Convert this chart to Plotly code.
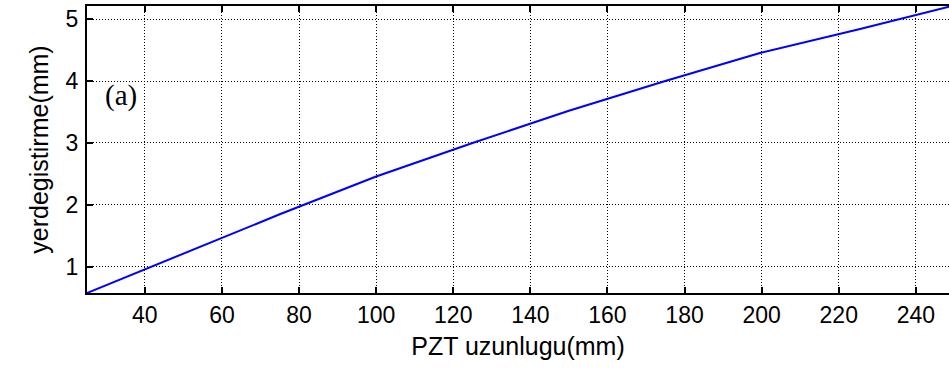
import plotly.graph_objects as go

# Data
pzt_length_mm = [25, 50, 75, 100, 125, 150, 175, 200, 225, 250]
displacement_mm = [0.58, 1.22, 1.85, 2.46, 3.00, 3.52, 4.00, 4.46, 4.83, 5.22]
x_ticks = [40, 60, 80, 100, 120, 140, 160, 180, 200, 220, 240]
y_ticks = [1, 2, 3, 4, 5]

fig = go.Figure()
fig.add_trace(go.Scatter(
    x=pzt_length_mm, y=displacement_mm, mode="lines",
    line=dict(color="#0000ff", width=2), showlegend=False,
))

axis_common = dict(
    showline=True, linecolor="black", linewidth=2,
    ticks="inside", ticklen=6, tickwidth=2, tickcolor="black",
    showgrid=True, gridcolor="black", gridwidth=1, griddash="1px,2px",
    zeroline=False,
    tickfont=dict(family="Liberation Sans, Arial", size=23, color="black"),
)

fig.update_xaxes(
    **axis_common, range=[25, 248.6], tickvals=x_ticks, mirror="ticks",
    title=dict(text="PZT uzunlugu(mm)", standoff=11,
               font=dict(family="Liberation Sans, Arial", size=25, color="black")),
    ticklabelstandoff=0,
)
fig.update_yaxes(
    **axis_common, range=[0.58, 5.21], tickvals=y_ticks, mirror=False,
    title=dict(text="yerdegistirme(mm)", standoff=10,
               font=dict(family="Liberation Sans, Arial", size=25, color="black")),
    ticklabelstandoff=2,
)

fig.add_annotation(
    x=33.8, y=3.76, xref="x", yref="y", text="(a)", showarrow=False,
    font=dict(family="Liberation Serif, Times New Roman", size=29, color="black"),
    xanchor="center", yanchor="middle",
)

fig.update_layout(
    width=949, height=369,
    margin=dict(l=87, r=0, t=6, b=76, autoexpand=False),
    paper_bgcolor="white", plot_bgcolor="white",
)

fig.write_html("out.html", config={"displayModeBar": False},
               post_script="document.body.style.margin='0';")
